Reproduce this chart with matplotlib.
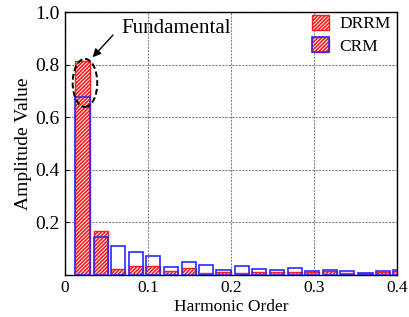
import matplotlib
matplotlib.use("Agg")
import matplotlib.pyplot as plt
from matplotlib.patches import Patch, Ellipse
from matplotlib.legend_handler import HandlerTuple

harmonic_order = [0.021, 0.043, 0.064, 0.085, 0.106, 0.128, 0.149, 0.170, 0.191, 0.213,
                  0.234, 0.255, 0.277, 0.298, 0.319, 0.340, 0.362, 0.383, 0.404]
drrm = [0.814, 0.167, 0.020, 0.033, 0.034, 0.016, 0.024, 0.005, 0.011, 0.006,
        0.009, 0.009, 0.011, 0.011, 0.015, 0.007, 0.006, 0.011, 0.015]
crm = [0.677, 0.144, 0.110, 0.085, 0.073, 0.030, 0.048, 0.036, 0.019, 0.032,
       0.022, 0.017, 0.024, 0.014, 0.017, 0.013, 0.008, 0.013, 0.018]
xticks = [0, 0.1, 0.2, 0.3, 0.4]
xticklabels = ["0", "0.1", "0.2", "0.3", "0.4"]
yticks = [0.2, 0.4, 0.6, 0.8, 1.0]
yticklabels = ["0.2", "0.4", "0.6", "0.8", "1.0"]

plt.rcParams['font.family'] = ['Liberation Serif', 'DejaVu Serif']
plt.rcParams['hatch.linewidth'] = 1.2

fig = plt.figure(figsize=(4.09, 3.17), dpi=100)
ax = fig.add_axes([0.159, 0.1334, 0.8117, 0.8287])

w = 0.017
HATCH = '/////////'
RED = '#ff1a1a'
BLUE = '#2a2aff'
ax.bar(harmonic_order, drrm, width=w, facecolor='white', edgecolor=RED,
       hatch=HATCH, linewidth=1.0, zorder=2)
ax.bar(harmonic_order, crm, width=w, facecolor='none', edgecolor=BLUE,
       linewidth=1.2, zorder=3)

ax.set_xlim(0, 0.4)
ax.set_ylim(0, 1.0)
ax.set_xticks(xticks)
ax.set_xticklabels(xticklabels)
ax.set_yticks(yticks)
ax.set_yticklabels(yticklabels)
ax.tick_params(direction='in', length=3, width=0.8)
ax.tick_params(axis='x', labelsize=12.5, pad=4)
ax.tick_params(axis='y', labelsize=14, pad=4)
ax.grid(True, color='#888888', linestyle=(0, (2, 1)), linewidth=0.8, zorder=0)
ax.set_axisbelow(True)
for s in ax.spines.values():
    s.set_linewidth(1.0)

ax.set_xlabel('Harmonic Order', fontsize=12.5, labelpad=2)
ax.set_ylabel('Amplitude Value', fontsize=14, labelpad=2)

ell = Ellipse((0.024, 0.73), 0.0296, 0.183, fill=False, edgecolor='black',
              linestyle=(0, (3, 1.5)), linewidth=1.4, zorder=5)
ax.add_patch(ell)
ax.annotate('', xy=(0.031, 0.82), xytext=(0.060, 0.92),
            arrowprops=dict(arrowstyle='-|>', color='black', lw=1.0,
                            mutation_scale=12), zorder=6)
ax.text(0.0675, 0.92, 'Fundamental', fontsize=15, ha='left', va='baseline', zorder=6)

h1 = Patch(facecolor='white', edgecolor=RED, hatch=HATCH, linewidth=1.0)
h2a = Patch(facecolor='white', edgecolor=RED, hatch=HATCH, linewidth=1.0)
h2b = Patch(facecolor='none', edgecolor=BLUE, linewidth=1.2)
ax.legend([h1, (h2a, h2b)], ['DRRM', 'CRM'],
          handler_map={tuple: HandlerTuple(ndivide=1, pad=0)},
          loc='upper right', bbox_to_anchor=(1.012, 1.03), frameon=False, fontsize=12.5,
          handlelength=0.95, handleheight=0.95, handletextpad=0.6,
          borderaxespad=0.2, labelspacing=0.3)

fig.savefig('out.png', dpi=100)
